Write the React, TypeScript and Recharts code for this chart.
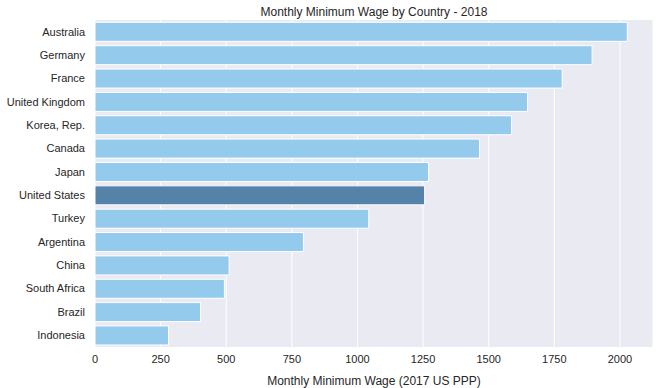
import { Bar, BarChart, CartesianGrid, Cell, XAxis, YAxis } from "recharts";

const countries = [
  "Australia",
  "Germany",
  "France",
  "United Kingdom",
  "Korea, Rep.",
  "Canada",
  "Japan",
  "United States",
  "Turkey",
  "Argentina",
  "China",
  "South Africa",
  "Brazil",
  "Indonesia",
];
const wages = [2028, 1894, 1780, 1648, 1587, 1465, 1271, 1256, 1043, 794, 511, 493, 402, 280];
const xTicks = [0, 250, 500, 750, 1000, 1250, 1500, 1750, 2000];
const highlight = "United States";

const data = countries.map((country, i) => ({ country, wage: wages[i] }));

const font = "'Liberation Sans', Arial, sans-serif";
const ink = "#262626";

// plain text tick so long names don't wrap
function CountryTick({ x, y, payload }: any) {
  return (
    <text x={x} y={y} dy="0.35em" textAnchor="end" fill={ink} fontSize={11} fontFamily={font}>
      {payload.value}
    </text>
  );
}

export default function App() {
  return (
    <div style={{ position: "absolute", left: 0, top: 0, width: 660, height: 388, fontFamily: font }}>
      <div
        style={{
          position: "absolute",
          left: 95,
          width: 558,
          top: 5,
          textAlign: "center",
          fontSize: 12,
          color: ink,
        }}
      >
        Monthly Minimum Wage by Country - 2018
      </div>
      <BarChart
        width={660}
        height={388}
        data={data}
        layout="vertical"
        margin={{ top: 20, right: 7, bottom: 0, left: 0 }}
        barCategoryGap="10%"
      >
        <CartesianGrid fill="#EAEAF2" stroke="#ffffff" strokeWidth={1} horizontal={false} />
        <XAxis
          type="number"
          domain={[0, 2126]}
          ticks={xTicks}
          height={41}
          axisLine={false}
          tickLine={false}
          tick={{ fill: ink, fontSize: 11, fontFamily: font }}
          label={{
            value: "Monthly Minimum Wage (2017 US PPP)",
            position: "insideBottom",
            offset: 3,
            fill: ink,
            fontSize: 12,
            fontFamily: font,
          }}
        />
        <YAxis
          type="category"
          dataKey="country"
          width={95}
          axisLine={false}
          tickLine={false}
          tickMargin={4}
          interval={0}
          tick={<CountryTick />}
        />
        <Bar dataKey="wage" stroke="#ffffff" strokeWidth={1} isAnimationActive={false}>
          {data.map((d) => (
            <Cell key={d.country} fill={d.country === highlight ? "#5482A8" : "#94CAEC"} />
          ))}
        </Bar>
      </BarChart>
    </div>
  );
}
